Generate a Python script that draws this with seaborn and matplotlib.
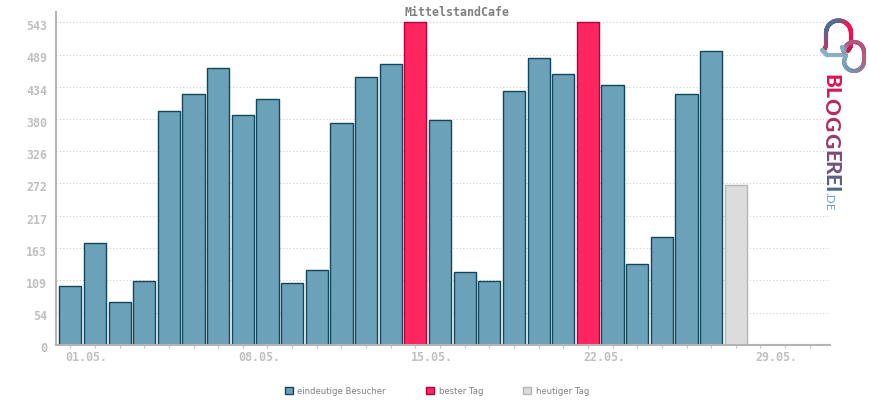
import numpy as np, pandas as pd
import matplotlib
matplotlib.use("Agg")
import matplotlib.pyplot as plt
import seaborn as sns
from matplotlib.collections import LineCollection
from matplotlib.colors import LinearSegmentedColormap, to_rgb
from matplotlib.transforms import ScaledTranslation

sns.set_theme(style="white")
GREY, TXT = "#b5b5b5", "#c0c0c0"
VISITORS, BEST, TODAY = "eindeutige Besucher", "bester Tag", "heutiger Tag"

days = [f"{d:02d}.05." for d in range(1, 32)]
values = [100, 172, 72, 108, 394, 422, 466, 388, 414, 105, 126, 374, 451, 473, 543, 379,
          123, 108, 428, 483, 456, 543, 438, 136, 182, 423, 495, 269, np.nan, np.nan, np.nan]
kinds = [VISITORS] * 31
kinds[14] = kinds[21] = BEST
kinds[27] = TODAY
y_ticks = [0, 54, 109, 163, 217, 272, 326, 380, 434, 489, 543]
label_days = ["01.05.", "08.05.", "15.05.", "22.05.", "29.05."]

fills = {VISITORS: "#6ca2b9", BEST: "#ff2660", TODAY: "#dcdcdc"}
edges = {VISITORS: "#13465a", BEST: "#b5003c", TODAY: "#b5b5b5"}

df = pd.DataFrame({"day": days, "value": values, "kind": kinds})

fig = plt.figure(figsize=(8.7, 4), dpi=100)
ax = fig.add_axes([56 / 870, 55 / 400, 774 / 870, 333 / 400])
sns.barplot(data=df, x="day", y="value", hue="kind", hue_order=[VISITORS, BEST, TODAY],
            palette=fills, saturation=1, dodge=False, width=0.9, ax=ax)
ax.set_xlim(-0.58, 30.82)
ax.set_ylim(0, 333 / 0.594)
ax.set_xlabel(""); ax.set_ylabel("")

for cont, k in zip(ax.containers, [VISITORS, BEST, TODAY]):
    for b in cont:
        b.set_edgecolor(edges[k]); b.set_linewidth(1.0)

ax.set_axisbelow(True)
ax.yaxis.grid(True, color="#cfcfcf", lw=0.8, ls=(0, (1, 2)))
ax.xaxis.grid(False)
for s in ["top", "right"]:
    ax.spines[s].set_visible(False)
for s in ["left", "bottom"]:
    ax.spines[s].set_color(GREY); ax.spines[s].set_linewidth(1.5)
    ax.spines[s].set_zorder(1.5)

ax.set_yticks(y_ticks)
ax.tick_params(axis="y", length=0, pad=6.5, labelsize=8.4, labelcolor=TXT)
ax.set_xticks(range(31))
ax.set_xticklabels([d if d in label_days else "" for d in days])
ax.tick_params(axis="x", length=2.5, width=0.8, color="#c4c4c4", bottom=True, pad=1.8,
               labelsize=8.4, labelcolor=TXT)
for t in ax.get_yticklabels():
    t.set_family("DejaVu Sans Mono"); t.set_weight("bold")
    t.set_transform(t.get_transform() + ScaledTranslation(0, -2.5 / 100, fig.dpi_scale_trans))
for t in ax.get_xticklabels():
    t.set_family("DejaVu Sans Mono"); t.set_weight("bold"); t.set_ha("left")
    t.set_transform(t.get_transform() + ScaledTranslation(-5 / 100, 0, fig.dpi_scale_trans))

fig.text(457 / 870, 1 - 12 / 400, "MittelstandCafe", family="DejaVu Sans Mono", weight="bold",
         fontsize=8.4, color="#808080", ha="center", va="center")

sns.move_legend(ax, "center", bbox_to_anchor=(437 / 870, 1 - 391 / 400),
                bbox_transform=fig.transFigure, ncol=3, frameon=False, title=None,
                fontsize=6.15, labelcolor="#808080", handlelength=0.9, handleheight=0.9,
                handletextpad=0.55, columnspacing=4.7, borderpad=0)
for h, k in zip(ax.get_legend().legend_handles, [VISITORS, BEST, TODAY]):
    h.set_edgecolor(edges[k]); h.set_linewidth(1.0)

# logo, drawn in pixel coordinates on a see-through overlay
logo = fig.add_axes([0, 0, 1, 1], facecolor="none")
logo.set_xlim(0, 870); logo.set_ylim(400, 0); logo.axis("off")


def arc(cx, cy, r, a0, a1):
    a = np.radians(np.linspace(a0, a1, 30))
    return np.c_[cx + r * np.cos(a), cy - r * np.sin(a)]


def grad_line(pts, colors):
    seg = np.hypot(*np.diff(pts, axis=0).T)
    cum = np.r_[0, np.cumsum(seg)]
    t = np.linspace(0, cum[-1], 200)
    xy = np.c_[np.interp(t, cum, pts[:, 0]), np.interp(t, cum, pts[:, 1])]
    segs = np.stack([xy[:-1], xy[1:]], axis=1)
    cmap = LinearSegmentedColormap.from_list("logo", colors)
    logo.add_collection(LineCollection(segs, colors=cmap(np.linspace(0, 1, 199)), lw=3.0, capstyle="round"))


grad_line(np.r_[[[824, 50], [826, 46]], arc(838.5, 33, 12.5, 180, 0), [[851, 46], [848, 51]]],
          ["#c8305c", "#8a4f80", "#4f6d90", "#5a6a8e", "#ff1050", "#e8104f", "#c81c55"])
grad_line(np.r_[[[822, 50], [827, 55], [846, 55]], arc(854, 61, 10, 180, 360), arc(854, 52, 10, 0, 180), [[842, 47]]],
          ["#7fb4c8", "#8fb0c2", "#86aabd", "#6f9fb5", "#8b7fa0", "#b0607f", "#b8527c", "#b4567e", "#7fb0c4"])

# wordmark, one letter at a time for the colour fade
letters = ["B", "L", "O", "G", "G", "E", "R", "E", "I"]
tops = [74, 87, 98, 116, 133, 150, 161, 174, 186]
c0, c1 = np.array(to_rgb("#e0124f")), np.array(to_rgb("#4a6a8c"))
for i, (ch, y) in enumerate(zip(letters, tops)):
    logo.text(831, y, ch, family="Lato", weight="black", fontsize=15, rotation=-90,
              ha="center", va="top", color=c0 + (c1 - c0) * i / 8)
logo.text(828.5, 192, ".DE", family="Lato", fontsize=8.5, rotation=-90, ha="center", va="top", color="#6f9fb8")

fig.savefig("out.png", dpi=100)
